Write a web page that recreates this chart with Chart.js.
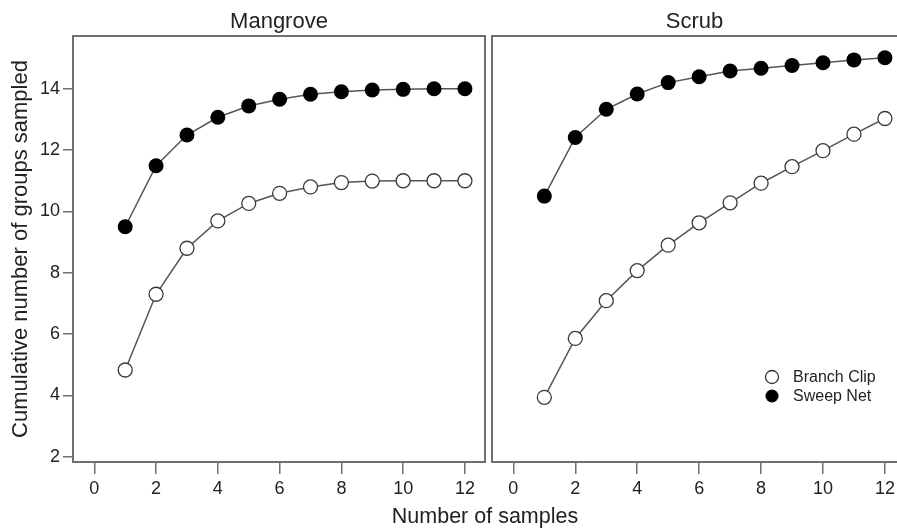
<!DOCTYPE html>
<html lang="en">
<head>
    <meta charset="UTF-8">
    <title>Cumulative number of groups sampled</title>
    <script src="https://cdn.jsdelivr.net/npm/chart.js"></script>
    <style>
        body {
            margin: 0;
            width: 897px;
            height: 529px;
            overflow: hidden;
            background: #fff;
            font-family: 'Liberation Sans', Arial, sans-serif;
            position: relative;
        }
        .panel {
            position: absolute;
            top: 0;
            height: 529px;
        }
        #mangrovePanel { left: 0; width: 489px; }
        #scrubPanel { left: 489px; width: 408px; }
        #xTitle {
            position: absolute;
            left: 335px;
            width: 300px;
            top: 506px;
            text-align: center;
            font-size: 21.5px;
            line-height: 21px;
            color: #222;
        }
    </style>
</head>
<body>
    <div class="panel" id="mangrovePanel"><canvas id="mangroveChart" width="489" height="529"></canvas></div>
    <div class="panel" id="scrubPanel"><canvas id="scrubChart" width="408" height="529"></canvas></div>
    <div id="xTitle">Number of samples</div>

    <script>
        const samples = [1, 2, 3, 4, 5, 6, 7, 8, 9, 10, 11, 12];
        const mangroveSweep = [9.5, 11.49, 12.49, 13.07, 13.44, 13.66, 13.82, 13.9, 13.96, 13.98, 14.0, 14.0];
        const mangroveClip = [4.83, 7.3, 8.8, 9.69, 10.26, 10.59, 10.8, 10.94, 10.99, 11.0, 11.0, 11.0];
        const scrubSweep = [10.5, 12.41, 13.33, 13.83, 14.2, 14.39, 14.58, 14.67, 14.76, 14.85, 14.94, 15.01];
        const scrubClip = [3.94, 5.86, 7.09, 8.07, 8.9, 9.63, 10.28, 10.92, 11.46, 11.98, 12.52, 13.03];
        const xTicks = [0, 2, 4, 6, 8, 10, 12];
        const yTicks = [2, 4, 6, 8, 10, 12, 14];
        const seriesNames = ['Branch Clip', 'Sweep Net'];

        const FONT = "'Liberation Sans', Arial, sans-serif";
        const TEXT = '#222';
        const AXIS = '#6f6f6f';

        Chart.defaults.font.family = FONT;
        Chart.defaults.color = TEXT;
        Chart.defaults.animation = false;

        const toPoints = vals => vals.map((v, i) => ({ x: samples[i], y: v }));

        // box round the plot area; the scrub panel is cut off on the right, so no right edge there
        function boxPlugin(openRight) {
            return {
                id: 'box',
                afterDraw(chart) {
                    const a = chart.chartArea;
                    const ctx = chart.ctx;
                    ctx.save();
                    ctx.strokeStyle = AXIS;
                    ctx.lineWidth = 2;
                    ctx.beginPath();
                    if (openRight) {
                        ctx.moveTo(a.right + 2, a.top);
                        ctx.lineTo(a.left, a.top);
                        ctx.lineTo(a.left, a.bottom);
                        ctx.lineTo(a.right + 2, a.bottom);
                    } else {
                        ctx.rect(a.left, a.top, a.right - a.left, a.bottom - a.top);
                    }
                    ctx.stroke();
                    ctx.restore();
                }
            };
        }

        // legend drawn inside the scrub panel
        const legendPlugin = {
            id: 'innerLegend',
            afterDraw(chart) {
                const ctx = chart.ctx;
                ctx.save();
                ctx.font = '16px ' + FONT;
                ctx.textBaseline = 'middle';
                seriesNames.forEach((name, i) => {
                    const y = 377 + i * 19;
                    ctx.beginPath();
                    ctx.arc(283, y, 6.5, 0, Math.PI * 2);
                    ctx.fillStyle = i === 0 ? '#fff' : '#000';
                    ctx.fill();
                    if (i === 0) {
                        ctx.strokeStyle = '#333';
                        ctx.lineWidth = 1.3;
                        ctx.stroke();
                    }
                    ctx.fillStyle = TEXT;
                    ctx.fillText(name, 304, y + 1);
                });
                ctx.restore();
            }
        };

        function datasets(clip, sweep) {
            return [{
                label: seriesNames[0],
                data: toPoints(clip),
                borderColor: '#555',
                borderWidth: 1.5,
                pointRadius: 7,
                pointBackgroundColor: '#fff',
                pointBorderColor: '#3a3a3a',
                pointBorderWidth: 1.3
            }, {
                label: seriesNames[1],
                data: toPoints(sweep),
                borderColor: '#555',
                borderWidth: 1.5,
                pointRadius: 7.5,
                pointBackgroundColor: '#000',
                pointBorderColor: '#000',
                pointBorderWidth: 0
            }];
        }

        function makeChart(id, title, clip, sweep, showY, xMax, extra) {
            const ctx = document.getElementById(id).getContext('2d');
            return new Chart(ctx, {
                type: 'line',
                data: { datasets: datasets(clip, sweep) },
                options: {
                    responsive: false,
                    layout: {
                        autoPadding: false,
                        padding: { left: showY ? 0 : 3, right: showY ? 4 : 0, top: 0, bottom: 0 }
                    },
                    plugins: {
                        legend: { display: false },
                        tooltip: { enabled: false },
                        title: {
                            display: true,
                            text: title,
                            fullSize: false,
                            color: TEXT,
                            font: { size: 22, weight: 'normal' },
                            padding: { top: 8.8, bottom: 0.8 }
                        }
                    },
                    scales: {
                        x: {
                            type: 'linear',
                            min: -0.69,
                            max: xMax,
                            afterBuildTicks: s => { s.ticks = xTicks.map(v => ({ value: v })); },
                            afterFit: s => {
                                s.height = 67;
                                s.paddingLeft = 0;
                                s.paddingRight = 0;
                            },
                            border: { display: false },
                            grid: { drawOnChartArea: false, tickLength: 12, color: AXIS, lineWidth: 1.5 },
                            ticks: { padding: 4, color: TEXT, font: { size: 18 } }
                        },
                        y: {
                            display: showY,
                            min: 1.83,
                            max: 15.72,
                            afterBuildTicks: s => { s.ticks = yTicks.map(v => ({ value: v })); },
                            afterFit: s => {
                                if (showY) s.width = 73;
                                s.paddingTop = 0;
                                s.paddingBottom = 0;
                            },
                            border: { display: false },
                            grid: { drawOnChartArea: false, tickLength: 10, color: AXIS, lineWidth: 1.5 },
                            ticks: { padding: 3, color: TEXT, font: { size: 18 } },
                            title: {
                                display: true,
                                text: 'Cumulative number of groups sampled',
                                color: TEXT,
                                font: { size: 22 },
                                padding: { top: 7.8, bottom: 0 }
                            }
                        }
                    }
                },
                plugins: [boxPlugin(!showY)].concat(extra)
            });
        }

        makeChart('mangroveChart', 'Mangrove', mangroveClip, mangroveSweep, true, 12.65, []);
        makeChart('scrubChart', 'Scrub', scrubClip, scrubSweep, false, 12.39, [legendPlugin]);
    </script>
</body>
</html>
